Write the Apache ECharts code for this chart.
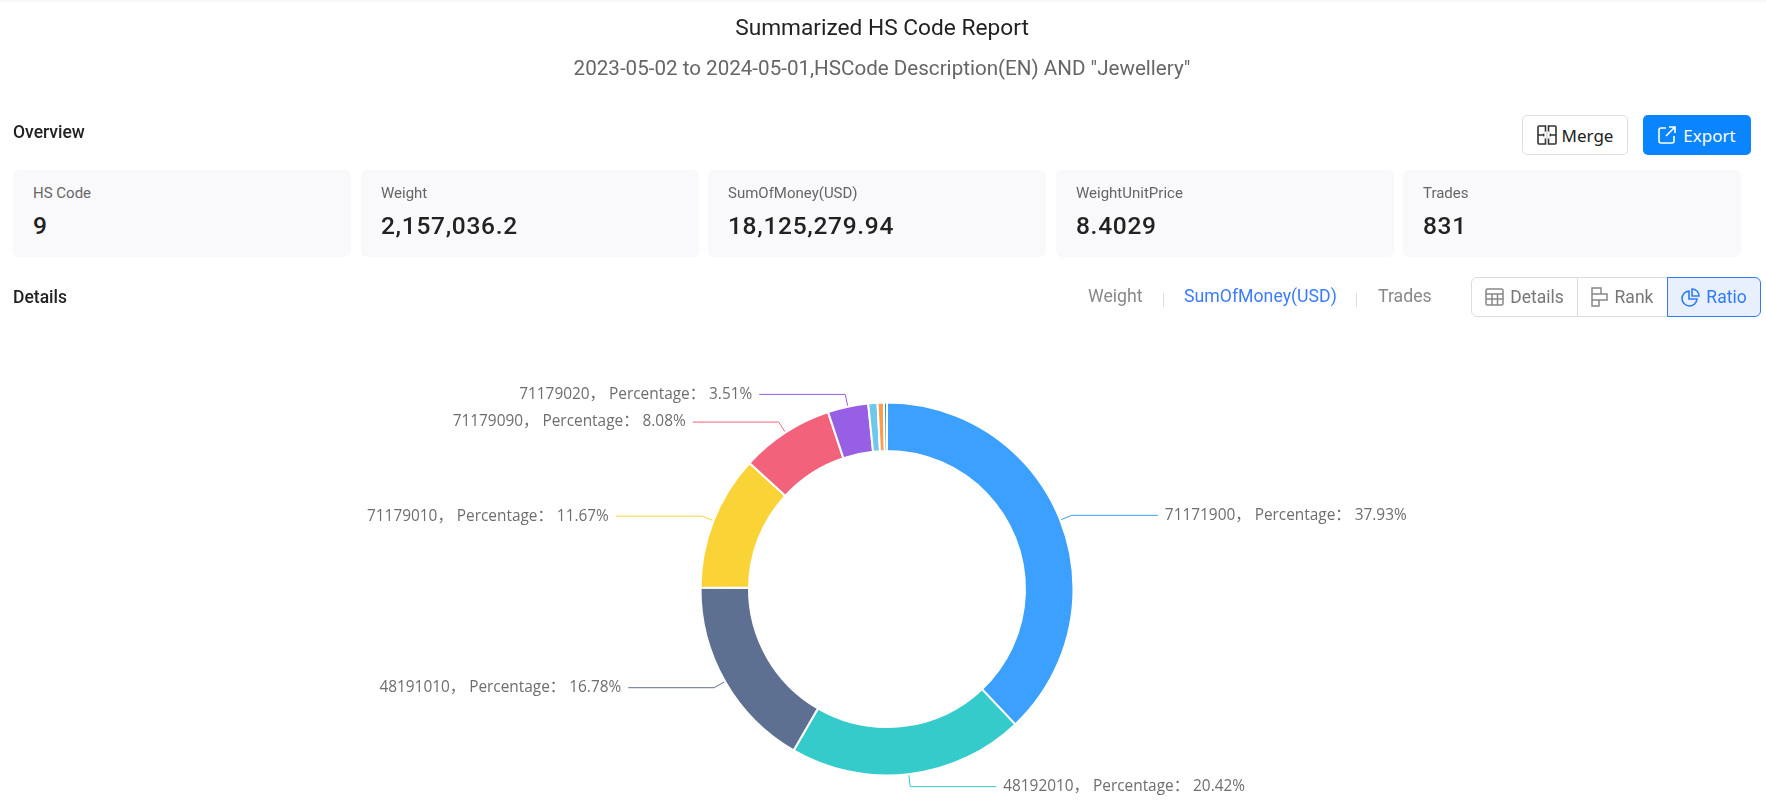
<!DOCTYPE html>
<html>
<head>
<meta charset="utf-8">
<script src="https://cdn.jsdelivr.net/npm/echarts@6/dist/echarts.min.js"></script>
<style>
html,body{margin:0;padding:0;background:#fff;width:1766px;height:805px;overflow:hidden;font-family:Roboto,sans-serif}
#chart{position:absolute;left:0;top:0;width:1766px;height:805px}
#topband{position:absolute;left:0;top:0;width:1766px;height:4px;background:linear-gradient(#f4f4f5,#fff)}
.t{position:absolute;white-space:nowrap;line-height:1}
.card{position:absolute;top:170px;height:87px;width:338px;background:#f9f9fb;border-radius:6px}
.card .l{position:absolute;left:20px;top:15px;font-size:15px;line-height:16px;color:#666}
.card .v{position:absolute;left:20px;top:42px;font-size:24.5px;line-height:28px;font-weight:500;color:#222;letter-spacing:.7px}
.btn{position:absolute;top:115px;height:40px;box-sizing:border-box;border-radius:5px;font-size:17px;display:flex;align-items:center;justify-content:center;gap:5px;font-family:"Noto Sans",sans-serif}
.seg{position:absolute;top:277px;height:40px;box-sizing:border-box;border:1px solid #dcdcdc;font-size:17.5px;color:#777;display:flex;align-items:center;justify-content:center;gap:6px}
svg{display:block}
</style>
</head>
<body>
<div id="topband"></div>
<div id="chart"></div>
<div id="ui"></div>
<script>
const reportTitle = 'Summarized HS Code Report';
const reportSubtitle = '2023-05-02 to 2024-05-01,HSCode Description(EN) AND "Jewellery"';
const cardLabels = ['HS Code', 'Weight', 'SumOfMoney(USD)', 'WeightUnitPrice', 'Trades'];
const cardValues = ['9', '2,157,036.2', '18,125,279.94', '8.4029', '831'];
const hsCodes = ['71171900', '48192010', '48191010', '71179010', '71179090', '71179020', 'Other A', 'Other B', 'Other C'];
const percentages = [37.93, 20.42, 16.78, 11.67, 8.08, 3.51, 0.8, 0.55, 0.26];
const sliceColors = ['#3BA0FF', '#36CBCB', '#5D7092', '#FAD337', '#F2637B', '#975FE4', '#6DC8EC', '#FF9D4D', '#269A99'];
const labelledCount = 6;

const ui = document.getElementById('ui');
function text(s, x, cy, size, color, extra) {
  const d = document.createElement('div');
  d.className = 't';
  d.textContent = s;
  d.style.cssText = `left:${x}px;top:${cy - size / 2}px;font-size:${size}px;color:${color};${extra || ''}`;
  ui.appendChild(d);
  return d;
}
text(reportTitle, 882, 28, 22.7, '#222', 'transform:translateX(-50%)');
text(reportSubtitle, 882, 68, 20.6, '#666', 'transform:translateX(-50%)');
text('Overview', 13, 133, 17.5, '#222', 'font-weight:500');
text('Details', 13, 298, 17.5, '#222', 'font-weight:500');

const cardX = [13, 361, 708, 1056, 1403];
cardLabels.forEach((l, i) => {
  const c = document.createElement('div');
  c.className = 'card';
  c.style.left = cardX[i] + 'px';
  c.innerHTML = `<div class="l">${l}</div><div class="v">${cardValues[i]}</div>`;
  ui.appendChild(c);
});

const mergeIcon = '<svg width="20" height="20" viewBox="0 0 20 20" fill="none" stroke="#333" stroke-width="1.6"><path d="M8.500 1H2a1 1 0 0 0-1 1v16a1 1 0 0 0 1 1h6.500zM11.500 1H18a1 1 0 0 1 1 1v16a1 1 0 0 1-1 1h-6.500z" stroke-dasharray="none"/><path d="M1 10h5M19 10h-5" /><path d="M8.500 10L6 8.200v3.600zM11.500 10L14 8.200v3.600z" fill="#333" stroke="none"/><path d="M8.500 6.500v7M11.500 6.500v7" stroke="#fff" stroke-width="2"/></svg>';
const exportIcon = '<svg width="18" height="18" viewBox="0 0 18 18" fill="none" stroke="#fff" stroke-width="1.6"><path d="M8 2H3a2 2 0 0 0-2 2v11a2 2 0 0 0 2 2h11a2 2 0 0 0 2-2v-5"/><path d="M11 1h6v6M17 1L8 10"/></svg>';
function btn(x, w, html, style) {
  const b = document.createElement('div');
  b.className = 'btn';
  b.style.cssText = `left:${x}px;width:${w}px;${style}`;
  b.innerHTML = html;
  ui.appendChild(b);
}
btn(1522, 106, mergeIcon + '<span>Merge</span>', 'border:1px solid #ddd;color:#222;background:#fff');
btn(1643, 108, exportIcon + '<span style="margin-left:2px">Export</span>', 'background:#0a84ff;color:#fff');

const tabs = [['Weight', 1088, '#888'], ['SumOfMoney(USD)', 1184, '#3b7cff'], ['Trades', 1378, '#888']];
tabs.forEach(t => text(t[0], t[1], 297, 17.7, t[2]));
[1163, 1356].forEach(x => {
  const s = document.createElement('div');
  s.style.cssText = `position:absolute;left:${x}px;top:293px;width:1px;height:14px;background:#ddd`;
  ui.appendChild(s);
});

const tableIcon = '<svg width="19" height="18" viewBox="0 0 19 18" fill="none" stroke="#888" stroke-width="1.5"><rect x="1" y="1" width="17" height="16" rx="1.5"/><path d="M1 6h17M1 11h17M7 6v11M12.500 6v11"/></svg>';
const rankIcon = '<svg width="18" height="20" viewBox="0 0 18 20" fill="none" stroke="#888" stroke-width="1.5"><path d="M1 1h9v6H1zM1 7h15v6H1zM1 13h7v6H1z"/></svg>';
const pieIcon = '<svg width="19" height="19" viewBox="0 0 19 19" fill="none" stroke="#2f7bf5" stroke-width="1.6"><path d="M8 3a7.500 7.500 0 1 0 8 8H8z"/><path d="M11 1a7 7 0 0 1 7 7h-7z"/></svg>';
function seg(x, w, html, style) {
  const b = document.createElement('div');
  b.className = 'seg';
  b.style.cssText = `left:${x}px;width:${w}px;${style}`;
  b.innerHTML = html;
  ui.appendChild(b);
}
seg(1471, 107, tableIcon + '<span>Details</span>', 'border-radius:6px 0 0 6px');
seg(1577, 91, rankIcon + '<span>Rank</span>', 'border-left:none');
seg(1667, 94, pieIcon + '<span>Ratio</span>', 'border:1px solid #2f7bf5;background:#e8f0fe;color:#2f7bf5;border-radius:0 6px 6px 0');

const chart = echarts.init(document.getElementById('chart'), null, { renderer: 'canvas' });
chart.setOption({
  animation: false,
  color: sliceColors,
  series: [{
    type: 'pie',
    center: [887, 589],
    radius: [138, 186.5],
    startAngle: 90,
    clockwise: true,
    avoidLabelOverlap: false,
    itemStyle: { borderColor: '#fff', borderWidth: 2 },
    label: {
      formatter: '{b}， Percentage： {c}%',
      fontFamily: '"Open Sans","Noto Sans CJK SC",sans-serif',
      fontSize: 15.4,
      color: '#6e6e6e',
      distanceToLabelLine: 7
    },
    labelLine: { length: 12.5, length2: 86, lineStyle: { width: 1 } },
    data: hsCodes.map((name, i) => ({
      name,
      value: percentages[i],
      label: { show: i < labelledCount },
      labelLine: { show: i < labelledCount }
    }))
  }]
});
</script>
</body>
</html>
